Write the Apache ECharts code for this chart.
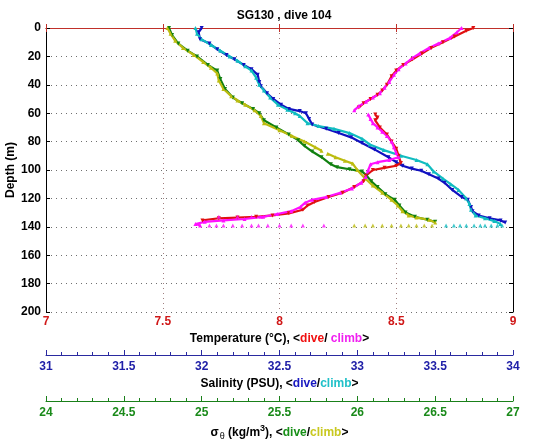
<!DOCTYPE html>
<html>
<head>
<meta charset="utf-8">
<script src="https://cdn.jsdelivr.net/npm/echarts@6/dist/echarts.min.js"></script>
<style>html,body{margin:0;padding:0;background:#fff}#c{width:535px;height:442px}</style>
</head>
<body>
<div id="c"></div>
<script>
// ---- data: [value, depth(m)] ----
const tempDive = [[8.83,0],[8.80,2],[8.75,6],[8.70,10],[8.65,14],[8.61,18],[8.57,22],[8.53,26],[8.50,30],[8.48,34],[8.46,40],[8.44,44],[8.42,47],[8.39,50],[8.36,53],[8.34,56],null,[8.41,61],[8.42,63],[8.41,65],[8.43,70],[8.46,75],[8.48,80],[8.50,85],[8.51,90],[8.52,95],[8.50,97],[8.45,98.5],[8.40,100],[8.37,104],[8.36,108],[8.32,112],[8.27,116],[8.21,119],[8.15,122.5],[8.12,125],[8.10,128],[8.04,130.5],[7.97,132],[7.90,133],[7.82,133.5],[7.74,134],[7.67,135.5]];
const tempClimb = [[8.78,0],[8.76,3],[8.73,7],[8.68,11],[8.64,14],[8.60,18],[8.57,21],[8.54,25],[8.51,29],[8.49,33],[8.47,38],[8.45,42],[8.43,46],[8.40,49],[8.37,52],[8.34,55],[8.32,58],null,[8.38,61],[8.39,64],[8.40,67],[8.42,70],[8.44,73],[8.46,76],[8.48,80],[8.49,84],[8.50,88],[8.51,91],[8.47,93],[8.42,94.5],[8.39,96],[8.38,100],[8.37,105],[8.35,109],[8.31,113],[8.26,116],[8.20,119],[8.14,121],[8.11,123],[8.09,126],[8.05,129],[7.99,131],[7.93,133],[7.85,134.5],[7.76,135.5],[7.68,136.5],[7.64,138],[7.66,139]];
const tempBottom = [[7.70,139],[7.73,139],[7.76,139],[7.80,139],[7.84,139],[7.88,139],[7.91,139],[7.95,139],[8.00,139],[8.05,139],[8.10,139],[8.19,139],[7.74,133],[7.82,133],[7.88,133],[7.92,133]];
const salDive = [[32.00,0],[31.98,3],[31.99,8],[32.05,11],[32.10,15],[32.16,19],[32.21,22],[32.27,26],[32.32,29],[32.36,33],[32.37,38],[32.38,41],[32.42,46],[32.46,50],[32.51,54],[32.56,57],[32.63,58.5],[32.67,60],[32.69,64],[32.71,68],[32.80,71],[32.88,74],[32.96,77],[33.03,81],[33.11,85.5],[33.20,91],[33.25,94.5],[33.29,97],[33.35,99],[33.41,100.5],[33.46,103],[33.52,106],[33.56,109],[33.61,114],[33.67,119],[33.71,121],[33.73,126],[33.74,129],[33.78,132],[33.85,134],[33.92,135.5],[33.95,137]];
const salClimb = [[31.96,0],[31.97,4],[32.00,8],[32.06,12],[32.12,16],[32.18,20],[32.23,23],[32.28,27],[32.32,30],[32.35,35],[32.37,40],[32.40,44],[32.44,49],[32.49,54],[32.55,57.5],[32.60,60],[32.63,62],[32.68,67],[32.75,69],[32.85,71],[32.95,74],[33.03,78],[33.08,82],[33.17,86],[33.28,90],[33.38,93],[33.45,96],[33.49,101],[33.55,106],[33.60,110],[33.65,114],[33.70,120],[33.72,124],[33.73,128],[33.76,132],[33.82,134],[33.88,136],[33.92,138]];
const salBottom = [[33.57,139],[33.62,139],[33.66,139],[33.70,139],[33.75,139],[33.79,139],[33.82,139],[33.86,139],[33.90,139],[33.93,139]];
const sigDive = [[24.79,0],[24.81,5],[24.85,11],[24.91,16],[24.97,20],[25.04,26],[25.10,30],[25.12,36],[25.15,43],[25.20,49],[25.26,53],[25.33,57],[25.37,60],[25.40,65],[25.48,70],[25.56,75],[25.62,79],[25.66,83],[25.71,87],[25.77,91],[25.83,96],[25.87,98],[25.95,99.5],[26.03,101],[26.06,104],[26.09,108],[26.13,112],[26.18,117],[26.24,121],[26.27,125],[26.31,130],[26.37,133],[26.45,135],[26.50,136.5]];
const sigClimb = [[24.78,0],[24.80,4],[24.83,9],[24.88,14],[24.95,19],[25.01,24],[25.06,28],[25.10,32],[25.11,37],[25.14,43],[25.19,48],[25.23,51],[25.28,54],[25.34,58],[25.38,62],[25.40,67],[25.50,72],[25.58,76],[25.66,80],[25.73,84],[25.77,86.5],null,[25.81,88.5],[25.86,91],[25.92,93.5],[25.97,95.5],[26.00,100],[26.05,106],[26.10,111],[26.16,116],[26.22,121],[26.26,125],[26.29,129],[26.33,132],[26.38,133.5],[26.46,135],[26.50,137]];
const sigBottom = [[25.98,139],[26.05,139],[26.10,139],[26.16,139],[26.22,139],[26.28,139],[26.33,139],[26.38,139],[26.43,139],[26.48,139]];

const FONT = 'Liberation Sans';
const C = {red:'#e01010', mag:'#ff10ff', blue:'#1010c0', cyan:'#10bcc0', green:'#108010', yel:'#bcbc10',
  axRed:'#c0302a', axBlue:'#2a2aa0', axGreen:'#1a801a'};

function lineSeries(data, xi, color, down){
  return {type:'line', data:data.map(p=>p?p:[null,null]), xAxisIndex:xi, yAxisIndex:0, connectNulls:false,
    showSymbol:true, symbol:'triangle', symbolSize:4, symbolRotate: down?180:0,
    lineStyle:{color:color, width:2.2}, itemStyle:{color:color}, animation:false, z:3};
}
function dotSeries(data, xi, color){
  return {type:'scatter', data:data, xAxisIndex:xi, yAxisIndex:0, symbol:'triangle', symbolSize:4,
    itemStyle:{color:color}, animation:false, z:3};
}
const lbl = (c)=>({color:c, fontFamily:FONT, fontWeight:'bold', fontSize:12});
const k = {color:'#000', fontFamily:FONT, fontWeight:'bold', fontSize:12};

const option = {
  backgroundColor:'#fff',
  title:{text:'SG130 , dive 104', left:279, textAlign:'center', top:5,
    textStyle:{fontFamily:FONT, fontWeight:'bold', fontSize:12, color:'#000'}},
  grid:{left:46, right:22, top:28, bottom:130, outerBoundsMode:'none', containLabel:false},
  xAxis:[
    {type:'value', position:'bottom', min:7, max:9, interval:0.5,
     axisLine:{lineStyle:{color:C.axRed, width:1}}, axisTick:{inside:true, length:4, lineStyle:{color:C.axRed}},
     axisLabel:Object.assign({margin:4}, lbl('#d01818')),
     splitLine:{show:true, lineStyle:{type:[1,4], color:'#a08080', width:1}},
     name:'{k|Temperature (°C), <}{r|dive}{k|/ }{m|climb}{k|>}', nameLocation:'middle', nameGap:16,
     nameTextStyle:{rich:{k:k, r:Object.assign({},k,{color:'#f01010'}), m:Object.assign({},k,{color:'#f020f0'})}}},
    {type:'value', position:'top', min:7, max:9, interval:0.5,
     axisLine:{lineStyle:{color:C.axRed, width:1}}, axisTick:{inside:true, length:4, lineStyle:{color:C.axRed}},
     axisLabel:{show:false}, splitLine:{show:false}},
    {type:'value', position:'bottom', offset:43, min:31, max:34, interval:0.5,
     axisLine:{lineStyle:{color:C.axBlue, width:1}}, axisTick:{inside:true, length:5, lineStyle:{color:C.axBlue}},
     minorTick:{show:true, splitNumber:5, length:3, lineStyle:{color:C.axBlue}},
     axisLabel:Object.assign({margin:6}, lbl('#2020a8')), splitLine:{show:false},
     name:'{k|Salinity (PSU), <}{b|dive}{k|/}{c|climb}{k|>}', nameLocation:'middle', nameGap:21,
     nameTextStyle:{rich:{k:k, b:Object.assign({},k,{color:'#1818c0'}), c:Object.assign({},k,{color:'#20c0c8'})}}},
    {type:'value', position:'bottom', offset:89, min:24, max:27, interval:0.5,
     axisLine:{lineStyle:{color:C.axGreen, width:1}}, axisTick:{inside:true, length:5, lineStyle:{color:C.axGreen}},
     minorTick:{show:true, splitNumber:5, length:3, lineStyle:{color:C.axGreen}},
     axisLabel:Object.assign({margin:6}, lbl('#1a8a1a')), splitLine:{show:false},
     name:'{k|σ}{sub|θ}{k| (kg/m}{sup|3}{k|), <}{g|dive}{k|/}{y|climb}{k|>}', nameLocation:'middle', nameGap:18,
     nameTextStyle:{rich:{k:k, sub:{color:'#000', fontFamily:FONT, fontSize:9, padding:[8,0,0,1]},
       sup:{color:'#000', fontFamily:FONT, fontWeight:'bold', fontSize:9, padding:[0,0,8,0]},
       g:Object.assign({},k,{color:'#189018'}), y:Object.assign({},k,{color:'#c8c820'})}}}
  ],
  yAxis:[
    {type:'value', inverse:true, min:0, max:200, interval:20, position:'left',
     axisLine:{show:true, lineStyle:{color:'#000'}}, axisTick:{inside:true, length:4, lineStyle:{color:'#000'}},
     axisLabel:Object.assign({margin:5}, lbl('#000')),
     splitLine:{show:true, lineStyle:{type:[1,4], color:'#707070', width:1}},
     name:'Depth (m)', nameLocation:'middle', nameGap:29, nameRotate:90, nameMoveOverlap:false,
     nameTextStyle:{fontFamily:FONT, fontWeight:'bold', fontSize:12, color:'#000'}},
    {type:'value', inverse:true, min:0, max:200, interval:20, position:'right',
     axisLine:{show:true, lineStyle:{color:'#000'}}, axisTick:{inside:true, length:4, lineStyle:{color:'#000'}},
     axisLabel:{show:false}, splitLine:{show:false}}
  ],
  series:[
    lineSeries(sigDive, 3, C.green, true),
    lineSeries(sigClimb, 3, C.yel, false),
    dotSeries(sigBottom, 3, C.yel),
    lineSeries(salDive, 2, C.blue, true),
    lineSeries(salClimb, 2, C.cyan, false),
    dotSeries(salBottom, 2, C.cyan),
    lineSeries(tempDive, 0, C.red, true),
    lineSeries(tempClimb, 0, C.mag, false),
    dotSeries(tempBottom, 0, C.mag)
  ]
};
const chart = echarts.init(document.getElementById('c'), null, {renderer:'canvas'});
chart.setOption(option);
</script>
</body>
</html>
